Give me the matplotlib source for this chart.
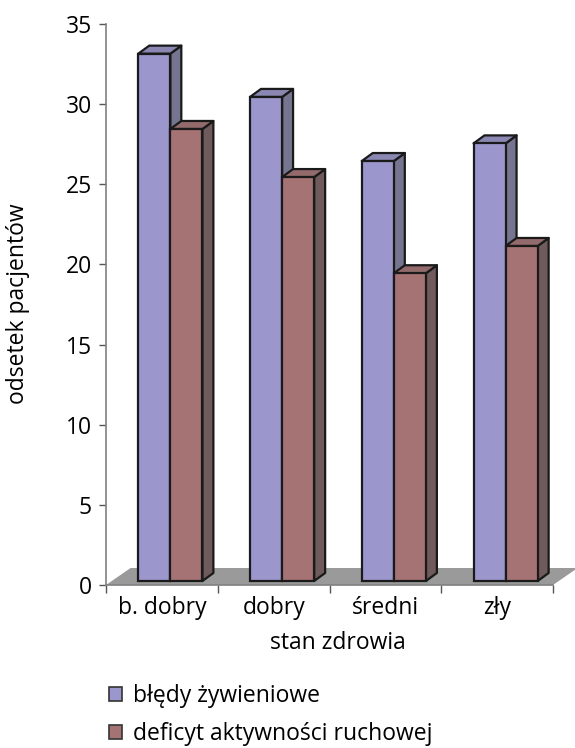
import numpy as np
import matplotlib.pyplot as plt
from matplotlib.patches import Polygon, Patch

# Dane
kategorie = ['b. dobry', 'dobry', 'średni', 'zły']
bledy_zyw = [32.9, 30.2, 26.2, 27.3]
deficyt_akt = [28.2, 25.2, 19.2, 20.9]
serie = ['błędy żywieniowe', 'deficyt aktywności ruchowej']

# Kolory (przód, bok, góra)
KOL_NIEB = ('#9b96cb', '#767590', '#8a87b2')
KOL_CZER = ('#a57374', '#6f5b5b', '#946b6c')

FS = 16.5
plt.rcParams['font.family'] = ['Open Sans', 'DejaVu Sans']

fig = plt.figure(figsize=(5.75, 7.48), dpi=100)
ax = fig.add_axes([106/575, 163/748, 447/575, 561/748])

szer = 0.287        # szerokosc slupka
przes = 0.076       # przesuniecie pary slupkow
glx, gly = 0.098, 0.5    # glebokosc slupka
podl_dx, podl_dy = 0.22, 1.06
podniesienie = 0.25

# Podloga
podloga = Polygon([(-0.5, 0), (3.5, 0), (3.5 + podl_dx, podl_dy), (-0.5 + podl_dx, podl_dy)],
                  closed=True, facecolor='#9a9a9a', edgecolor='none', clip_on=False, zorder=1)
ax.add_patch(podloga)

x = np.arange(len(kategorie))

def slupki3d(xs, wart, kol):
    bary = ax.bar(xs, wart, width=szer, bottom=podniesienie, color=kol[0],
                  edgecolor='#1a1a1a', linewidth=1.6, zorder=3, clip_on=False)
    for b in bary:
        x0 = b.get_x()
        x1 = x0 + b.get_width()
        y0 = b.get_y()
        y1 = y0 + b.get_height()
        bok = Polygon([(x1, y0), (x1 + glx, y0 + gly), (x1 + glx, y1 + gly), (x1, y1)],
                      closed=True, facecolor=kol[1], edgecolor='#1a1a1a', linewidth=1.6,
                      zorder=2, clip_on=False, joinstyle='round')
        gora = Polygon([(x0, y1), (x0 + glx, y1 + gly), (x1 + glx, y1 + gly), (x1, y1)],
                       closed=True, facecolor=kol[2], edgecolor='#1a1a1a', linewidth=1.6,
                       zorder=2, clip_on=False, joinstyle='round')
        ax.add_patch(bok)
        ax.add_patch(gora)
    return bary

slupki3d(x + przes - szer/2, bledy_zyw, KOL_NIEB)
slupki3d(x + przes + szer/2, deficyt_akt, KOL_CZER)

ax.set_xlim(-0.5, 3.5)
ax.set_ylim(0, 35)
ax.set_yticks(np.arange(0, 36, 5))
ax.set_xticks(np.arange(-0.5, 4, 1))
ax.set_xticklabels([])
ax.set_xticks(x, minor=True)
ax.set_xticklabels(kategorie, minor=True, fontsize=FS)
ax.tick_params(axis='x', which='minor', length=0, pad=8)
ax.tick_params(axis='x', which='major', length=6, color='#555555', width=1)
ax.tick_params(axis='y', length=5, color='#555555', width=1, labelsize=FS, pad=5)

for s in ['top', 'right']:
    ax.spines[s].set_visible(False)
ax.spines['left'].set_color('#808080')
ax.spines['bottom'].set_color('#808080')
ax.spines['left'].set_linewidth(1.2)
ax.spines['bottom'].set_linewidth(1.2)

fig.text(338/575, 1 - 643/748, 'stan zdrowia', ha='center', va='center', fontsize=FS)
fig.text(18/575, 1 - 304/748, 'odsetek pacjentów', ha='center', va='center',
         rotation=90, fontsize=FS)

uchwyty = [Patch(facecolor=KOL_NIEB[0], edgecolor='#333333', linewidth=1.2),
           Patch(facecolor=KOL_CZER[0], edgecolor='#333333', linewidth=1.2)]
fig.legend(uchwyty, serie, loc='upper left', bbox_to_anchor=(100/575, 1 - 675/748),
           frameon=False, fontsize=FS, handlelength=0.55, handleheight=0.55,
           handletextpad=0.5, labelspacing=0.62, borderaxespad=0)

fig.savefig('out.png', dpi=100)
